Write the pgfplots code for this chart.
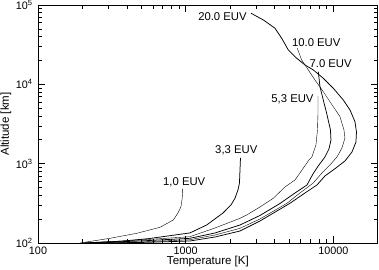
\documentclass[border=0pt]{standalone}
\usepackage{fontspec}
\setmainfont{Liberation Sans}
\usepackage{pgfplots}
\pgfplotsset{compat=1.18}
\tikzset{lbl/.style={font=\fontsize{11.3}{13}\selectfont, inner sep=0pt, anchor=center}}
\begin{document}
\begin{tikzpicture}
\begin{axis}[
  scale only axis, width=339.8pt, height=238pt,
  xmode=log, ymode=log,
  xmin=100, xmax=20000, ymin=100, ymax=100000,
  xtick={100,1000,10000}, xticklabels={100,1000,10000},
  ytick={100,1000,10000,100000},
  yticklabels={10\textsuperscript{2},10\textsuperscript{3},10\textsuperscript{4},10\textsuperscript{5}},
  minor xtick={200,300,400,500,600,700,800,900,2000,3000,4000,5000,6000,7000,8000,9000},
  minor ytick={200,300,400,500,600,700,800,900,2000,3000,4000,5000,6000,7000,8000,9000,20000,30000,40000,50000,60000,70000,80000,90000},
  major tick length=7pt, minor tick length=4pt,
  tick style={black, line width=0.6pt},
  axis line style={line width=0.8pt},
  ticklabel style={font=\fontsize{10.8}{12}\selectfont},
  yticklabel style={xshift=-2pt},
  xlabel={Temperature [K]}, ylabel={Altitude [km]},
  label style={font=\fontsize{11.5}{13}\selectfont},
  xlabel style={at={(axis description cs:0.5,0)}, anchor=center, yshift=-19pt},
  ylabel style={at={(axis description cs:0,0.5)}, anchor=center, yshift=32pt},
  cycle list={{black, line width=0.75pt}},
  no markers,
]
% 1.0 EUV
\addplot coordinates {(192,100) (307,114.6) (466,132.5) (670,157.8) (824,195) (887,238.9) (929,287) (944,348.5) (952,414.8) (955,489.6)};
% 3.3 EUV
\addplot coordinates {(199,100) (359,105.1) (560,113.5) (1069,134) (1387,168.7) (1789,238.9) (2026,301.5) (2157,366.2) (2260,466) (2313,571) (2332,832.6) (2350,1180)};
% 5.3 EUV
\addplot coordinates {(205,100) (490,109.1) (1069,120.1) (1579,154.6) (2332,204.8) (2588,225.5) (3185,284.5) (3919,366.2) (4702,508.4) (5496,623) (5941,764) (6836,1113) (7163,1215) (7624,1721) (7807,2660) (7868,4114) (7868,7141)};
% 7.0 EUV
\addplot coordinates {(211,100) (490,106) (1069,114.6) (1579,133.7) (2332,168.7) (3185,222.3) (4350,314.8) (5496,427) (6626,538.6) (7276,741.7) (7989,963) (8773,1214.7) (9337,1532.3) (9633,1990) (9558,2660.5) (9008,4321.6) (8543,6357) (8115,9355) (7905,14462)};
% 10.0 EUV
\addplot coordinates {(225,100) (490,102.9) (1069,110.1) (1579,126.1) (2332,153.2) (3185,200.7) (4851,316.7) (5941,427) (7276,566) (8372,763.6) (9484,963) (10577,1214.7) (11435,1577.4) (11983,2109) (11797,2660.5) (11084,3915.6) (9985,5233.5) (8543,8088) (7506,11362) (6762,15193) (6100,20310) (5697,28532)};
% 20.0 EUV
\addplot coordinates {(243,100) (490,101.5) (1069,106) (1579,119) (2332,141.7) (3185,189.4) (5084,316.7) (6423,427) (7744,538.6) (8773,699.9) (10414,882.8) (11983,1081.4) (13368,1404.5) (14228,1877.6) (14339,2510) (14007,3385.6) (12958,4755.3) (11669,6357) (9985,8930) (8543,11938) (7310,15193) (6423,17564) (5643,21339) (4952,27163) (4467,38135) (4024,50996) (3353,64896) (2768,78792)};
\node[lbl] at (axis cs:1775,71400) {20.0 EUV};
\node[lbl] at (axis cs:7661,33950) {10.0 EUV};
\node[lbl] at (axis cs:9587,18454) {7.0 EUV};
\node[lbl] at (axis cs:5287,6489) {5,3 EUV};
\node[lbl] at (axis cs:2201,1488.5) {3,3 EUV};
\node[lbl] at (axis cs:978,588) {1,0 EUV};
\end{axis}
\pgfresetboundingbox
\path (current axis.south west) ++(-38pt,-26pt) rectangle ++(379pt,269pt);
\end{tikzpicture}
\end{document}
